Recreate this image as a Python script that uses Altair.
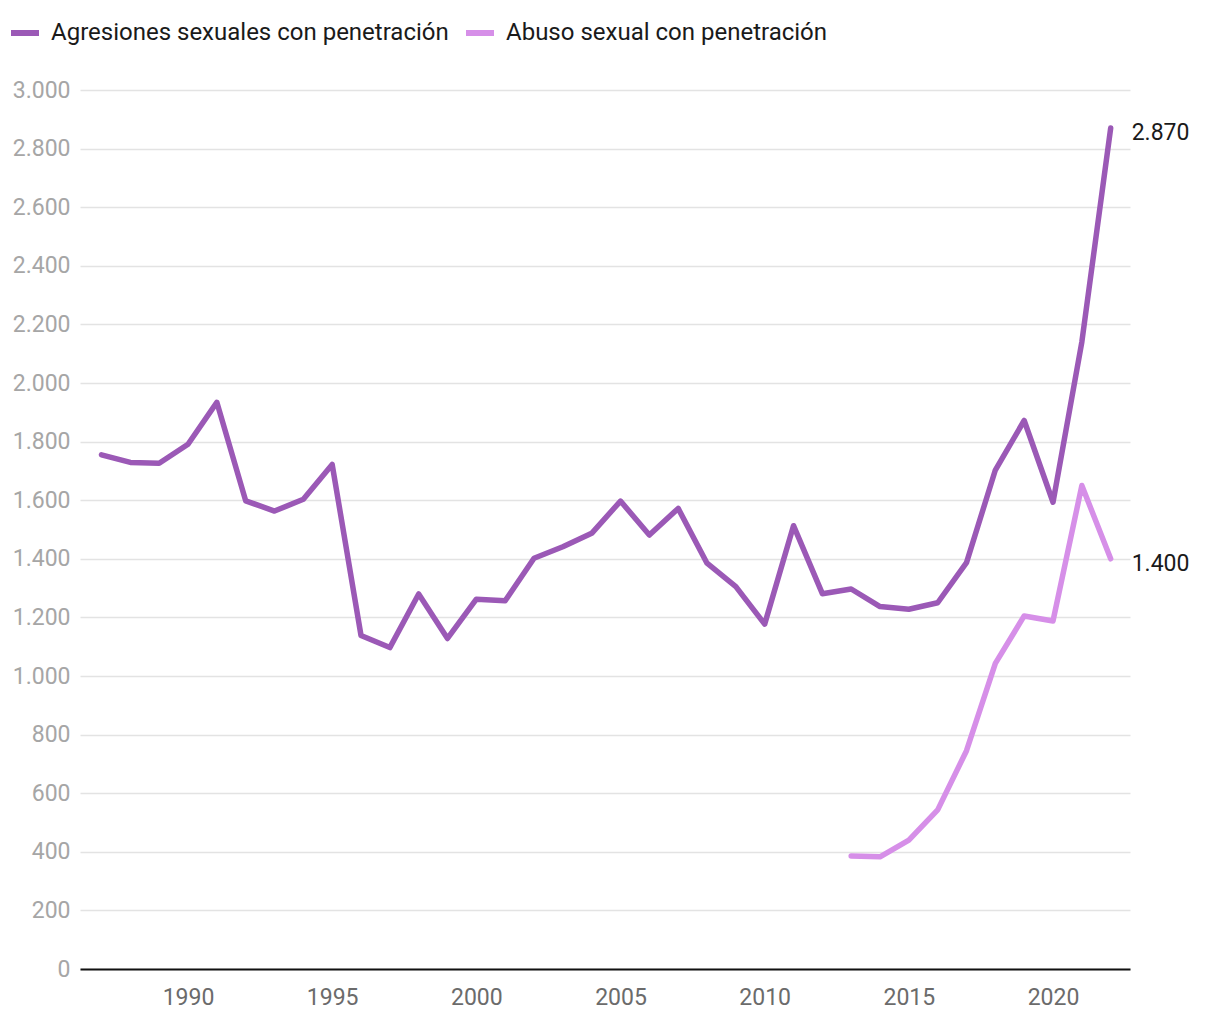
import altair as alt
import pandas as pd

years_agr = list(range(1987, 2023))
agresiones = [1755, 1729, 1726, 1791, 1934, 1598, 1563, 1603, 1722, 1138,
              1097, 1280, 1128, 1262, 1257, 1402, 1441, 1487, 1597, 1481,
              1572, 1385, 1305, 1177, 1513, 1281, 1297, 1237, 1228, 1250,
              1387, 1703, 1872, 1593, 2140, 2870]
years_abu = list(range(2013, 2023))
abuso = [386, 383, 440, 543, 745, 1043, 1205, 1188, 1650, 1400]

S1 = "Agresiones sexuales con penetración"
S2 = "Abuso sexual con penetración"
series_names = [S1, S2]
series_colors = ["#9b59b6", "#d68fe8"]

df = pd.DataFrame(
    {"year": years_agr, "value": agresiones, "serie": [S1] * len(years_agr)}
)
df = pd.concat(
    [df, pd.DataFrame({"year": years_abu, "value": abuso, "serie": [S2] * len(years_abu)})],
    ignore_index=True,
)
last = pd.DataFrame(
    {"year": [years_agr[-1], years_abu[-1]], "value": [agresiones[-1], abuso[-1]], "serie": [S1, S2]}
)

FONT = "Roboto"
FS = 23

x = alt.X(
    "year:Q",
    scale=alt.Scale(domain=[1986.254, 2022.67], nice=False, zero=False),
    axis=alt.Axis(
        values=[1990, 1995, 2000, 2005, 2010, 2015, 2020],
        format="d",
        title=None,
        grid=False,
        ticks=False,
        domain=True,
        domainColor="#111111",
        domainWidth=2,
        labelColor="#6b6b6b",
        labelFontSize=FS,
        labelPadding=17,
        labelFont=FONT,
    ),
)
y = alt.Y(
    "value:Q",
    scale=alt.Scale(domain=[0, 3000], nice=False),
    axis=alt.Axis(
        values=list(range(0, 3001, 200)),
        labelExpr="replace(format(datum.value, ','), ',', '.')",
        title=None,
        grid=True,
        gridColor="#e3e3e3",
        gridWidth=1.5,
        ticks=False,
        domain=False,
        labelColor="#a6a6a6",
        labelFontSize=FS,
        labelPadding=10,
        labelFont=FONT,
    ),
)

lines = alt.Chart(df).mark_line(strokeWidth=5.5, strokeCap="round", strokeJoin="round").encode(
    x=x,
    y=y,
    color=alt.Color(
        "serie:N",
        scale=alt.Scale(domain=series_names, range=series_colors),
        sort=series_names,
        legend=alt.Legend(
            title=None,
            orient="none",
            legendX=-72,
            legendY=-74,
            direction="horizontal",
            symbolType="stroke",
            symbolStrokeWidth=6,
            symbolSize=784,
            labelFontSize=24,
            labelFont=FONT,
            labelColor="#1a1a1a",
            labelOffset=9,
            labelLimit=0,
            columnPadding=5,
            symbolOffset=0,
        ),
    ),
)

labels = alt.Chart(last).transform_calculate(
    lab="replace(format(datum.value, ','), ',', '.')"
).mark_text(align="left", baseline="middle", dx=21, dy=5, fontSize=FS, font=FONT, color="#1a1a1a").encode(
    x="year:Q",
    y="value:Q",
    text="lab:N",
)

chart = (
    alt.layer(lines, labels)
    .properties(
        width=1050,
        height=879,
        autosize=alt.AutoSizeParams(type="none"),
        padding={"left": 72, "top": 82, "right": 80, "bottom": 43},
    )
    .configure(font=FONT)
    .configure_view(strokeWidth=0, stroke="transparent")
)

chart.save("out.html", embed_options={"renderer": "svg", "actions": False})
